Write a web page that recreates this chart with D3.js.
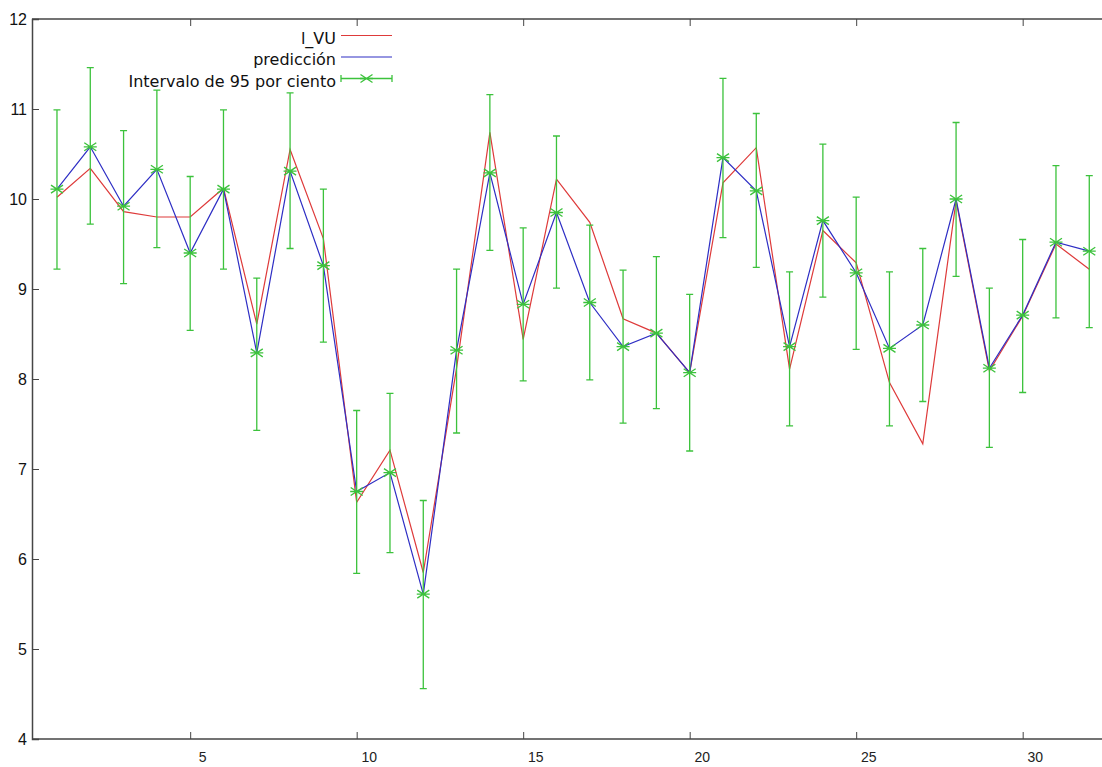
<!DOCTYPE html>
<html>
<head>
<meta charset="utf-8">
<script src="https://cdn.jsdelivr.net/npm/d3@7"></script>
<style>
  html, body { margin: 0; padding: 0; background: #fff; overflow: hidden; }
  svg { display: block; font-family: "DejaVu Sans", sans-serif; }
</style>
</head>
<body>
<script>
"use strict";

// observations 1..32
var obs = [1, 2, 3, 4, 5, 6, 7, 8, 9, 10, 11, 12, 13, 14, 15, 16,
           17, 18, 19, 20, 21, 22, 23, 24, 25, 26, 27, 28, 29, 30, 31, 32];

// l_VU (red)
var lVU = [10.02, 10.34, 9.86, 9.80, 9.80, 10.12, 8.61, 10.55, 9.56, 6.63, 7.21, 5.85,
           8.12, 10.74, 8.44, 10.22, 9.74, 8.67, 8.51, 8.07, 10.18, 10.57, 8.11, 9.65,
           9.29, 7.96, 7.28, 9.98, 8.09, 8.70, 9.50, 9.22];

// predicción (blue, also the centre of the interval)
var prediccion = [10.11, 10.58, 9.92, 10.33, 9.40, 10.11, 8.29, 10.31, 9.26, 6.75, 6.96, 5.61,
                  8.32, 10.29, 8.83, 9.85, 8.85, 8.36, 8.51, 8.07, 10.46, 10.09, 8.36, 9.76,
                  9.18, 8.34, 8.60, 10.00, 8.12, 8.71, 9.52, 9.42];

// 95% interval bounds
var lower = [9.22, 9.72, 9.06, 9.46, 8.54, 9.22, 7.43, 9.45, 8.41, 5.84, 6.07, 4.56,
             7.40, 9.43, 7.98, 9.01, 7.99, 7.51, 7.67, 7.20, 9.57, 9.24, 7.48, 8.91,
             8.33, 7.48, 7.75, 9.14, 7.24, 7.85, 8.68, 8.57];
var upper = [10.99, 11.46, 10.76, 11.21, 10.25, 10.99, 9.12, 11.18, 10.11, 7.65, 7.84, 6.65,
             9.22, 11.16, 9.68, 10.70, 9.71, 9.21, 9.36, 8.94, 11.34, 10.95, 9.19, 10.61,
             10.02, 9.19, 9.45, 10.85, 9.01, 9.55, 10.37, 10.26];

var xTicks = [5, 10, 15, 20, 25, 30];
var yTicks = [4, 5, 6, 7, 8, 9, 10, 11, 12];

var legendNames = ["l_VU", "predicción", "Intervalo de 95 por ciento"];

var RED = "#de3a3a", BLUE = "#2e2ec4", GREEN = "#3cc23c", AXIS = "#454545";

var W = 1102, H = 767;
var margin = {top: 19, left: 32, bottom: 28};
var plotH = H - margin.top - margin.bottom;

// the plot box runs on past the right edge of the picture
var x = d3.scaleLinear().domain([0.25, 33]).range([0, 33.3 * (33 - 0.25)]);
var y = d3.scaleLinear().domain([4, 12]).range([plotH, 0]);

var svg = d3.select("body").append("svg")
  .attr("width", W)
  .attr("height", H);

var g = svg.append("g")
  .attr("transform", "translate(" + margin.left + "," + margin.top + ")");

var xMax = x.range()[1];

// axes
var yAxis = g.append("g")
  .call(d3.axisLeft(y).tickValues(yTicks).tickSize(-7).tickPadding(5).tickFormat(d3.format("d")));
yAxis.selectAll("text").style("font-size", "16px").attr("fill", "#111");

var xAxis = g.append("g")
  .attr("transform", "translate(0," + plotH + ")")
  .call(d3.axisBottom(x).tickValues(xTicks).tickSize(-7).tickPadding(13).tickFormat(d3.format("d")));
xAxis.selectAll("text").style("font-size", "14px").attr("fill", "#222").attr("dx", "12");

var topAxis = g.append("g")
  .call(d3.axisTop(x).tickValues(xTicks).tickSize(-7).tickFormat(""));

[yAxis, xAxis, topAxis].forEach(function (a) {
  a.select(".domain").attr("stroke", AXIS).attr("stroke-width", 1.5);
  a.selectAll(".tick line").attr("stroke", AXIS);
});
topAxis.select(".domain").attr("d", "M0,0H" + xMax);
xAxis.select(".domain").attr("d", "M0,0H" + xMax);

// series
var idx = d3.range(obs.length);

var line = function (vals) {
  return d3.line()
    .x(function (i) { return x(obs[i]); })
    .y(function (i) { return y(vals[i]); })(idx);
};

g.append("path").attr("d", line(lVU))
  .attr("fill", "none").attr("stroke", RED).attr("stroke-width", 1.2);

g.append("path").attr("d", line(prediccion))
  .attr("fill", "none").attr("stroke", BLUE).attr("stroke-width", 1.2);

// error bars with star markers
function starPath(cx, cy) {
  return "M" + (cx - 6.5) + "," + cy + "H" + (cx + 6.5) +
    "M" + (cx - 6) + "," + (cy - 4) + "L" + (cx + 6) + "," + (cy + 4) +
    "M" + (cx - 6) + "," + (cy + 4) + "L" + (cx + 6) + "," + (cy - 4);
}

var bars = g.append("g").attr("stroke", GREEN).attr("stroke-width", 1.3).attr("fill", "none");

bars.selectAll("path.bar")
  .data(idx)
  .join("path")
  .attr("class", "bar")
  .attr("d", function (i) {
    var cx = x(obs[i]), y0 = y(lower[i]), y1 = y(upper[i]);
    return "M" + cx + "," + y0 + "V" + y1 +
      "M" + (cx - 3.5) + "," + y1 + "H" + (cx + 3.5) +
      "M" + (cx - 3.5) + "," + y0 + "H" + (cx + 3.5);
  });

bars.selectAll("path.star")
  .data(idx)
  .join("path")
  .attr("class", "star")
  .attr("d", function (i) { return starPath(x(obs[i]), y(prediccion[i])); });

// legend
var legend = svg.append("g");
var legY = [35.5, 57, 78.5];
var lx0 = 341, lx1 = 392;

legendNames.forEach(function (name, k) {
  legend.append("text")
    .attr("x", 336)
    .attr("y", legY[k] + 2.5)
    .attr("text-anchor", "end")
    .attr("dominant-baseline", "central")
    .style("font-size", "16px")
    .attr("fill", "#111")
    .text(name);
});

legend.append("line").attr("x1", lx0).attr("x2", lx1).attr("y1", legY[0]).attr("y2", legY[0])
  .attr("stroke", RED).attr("stroke-width", 1.2);
legend.append("line").attr("x1", lx0).attr("x2", lx1).attr("y1", legY[1]).attr("y2", legY[1])
  .attr("stroke", BLUE).attr("stroke-width", 1.2);

var lg = legend.append("g").attr("stroke", GREEN).attr("stroke-width", 1.3).attr("fill", "none");
lg.append("path").attr("d",
  "M" + lx0 + "," + legY[2] + "H" + lx1 +
  "M" + lx0 + "," + (legY[2] - 3.5) + "V" + (legY[2] + 3.5) +
  "M" + lx1 + "," + (legY[2] - 3.5) + "V" + (legY[2] + 3.5));
lg.append("path").attr("d", starPath((lx0 + lx1) / 2, legY[2]));
</script>
</body>
</html>
